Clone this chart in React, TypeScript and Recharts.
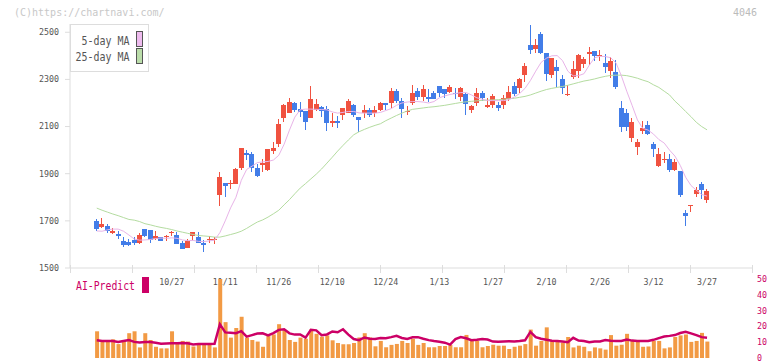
import React from 'react';
import { ComposedChart, Bar, Line, XAxis, YAxis } from 'recharts';

const labelIdx = [14, 24, 34, 44, 54, 64, 74, 84, 94, 104, 114];
const labelText = ['10/27', '11/11', '11/26', '12/10', '12/24', '1/13', '1/27', '2/10', '2/26', '3/12', '3/27'];

const opens = [
  1700, 1676, 1679, 1648, 1645, 1613, 1611, 1620, 1604, 1665,
  1662, 1623, 1631, 1632, 1650, 1642, 1608, 1583, 1636, 1630,
  1604, 1622, 1619, 1808, 1861, 1859, 1858, 1925, 1988, 1984,
  1925, 1935, 1914, 1997, 2028, 2138, 2159, 2200, 2175, 2167,
  2138, 2171, 2183, 2175, 2113, 2124, 2148, 2157, 2192, 2141,
  2157, 2171, 2159, 2171, 2202, 2199, 2251, 2208, 2164, 2199,
  2251, 2227, 2226, 2243, 2272, 2260, 2247, 2243, 2227, 2236,
  2172, 2202, 2243, 2183, 2193, 2192, 2193, 2217, 2272, 2264,
  2319, 2446, 2429, 2493, 2412, 2320, 2353, 2302, 2237, 2312,
  2336, 2366, 2408, 2421, 2403, 2370, 2336, 2332, 2179, 2158,
  2053, 2015, 2083, 2107, 2027, 1933, 1962, 1963, 1917, 1912,
  1734, 1767, 1815, 1857, 1789,
];
const highs = [
  1709, 1713, 1688, 1669, 1655, 1633, 1623, 1631, 1648, 1666,
  1662, 1657, 1632, 1641, 1658, 1654, 1613, 1623, 1652, 1654,
  1617, 1637, 1630, 1908, 1862, 1874, 1926, 2010, 2001, 1993,
  1941, 1963, 2004, 2035, 2133, 2197, 2222, 2205, 2205, 2167,
  2272, 2217, 2188, 2188, 2159, 2145, 2180, 2217, 2197, 2141,
  2192, 2180, 2188, 2206, 2202, 2263, 2260, 2222, 2188, 2277,
  2263, 2277, 2260, 2251, 2272, 2260, 2277, 2264, 2268, 2243,
  2193, 2264, 2251, 2222, 2239, 2206, 2235, 2272, 2289, 2306,
  2370, 2530, 2472, 2501, 2412, 2391, 2381, 2319, 2277, 2378,
  2407, 2394, 2438, 2421, 2424, 2409, 2394, 2383, 2209, 2175,
  2137, 2049, 2124, 2124, 2035, 2010, 1993, 1984, 1963, 1912,
  1747, 1768, 1844, 1866, 1836,
];
const lows = [
  1659, 1668, 1648, 1644, 1625, 1587, 1594, 1597, 1600, 1633,
  1608, 1617, 1613, 1613, 1634, 1600, 1581, 1583, 1617, 1608,
  1568, 1608, 1600, 1765, 1803, 1837, 1857, 1917, 1959, 1908,
  1884, 1909, 1913, 1984, 2015, 2120, 2157, 2162, 2141, 2087,
  2137, 2166, 2142, 2082, 2096, 2093, 2128, 2156, 2142, 2075,
  2136, 2140, 2142, 2166, 2171, 2180, 2202, 2137, 2150, 2191,
  2214, 2209, 2205, 2217, 2227, 2222, 2243, 2217, 2210, 2151,
  2159, 2189, 2210, 2180, 2180, 2166, 2176, 2209, 2231, 2243,
  2291, 2409, 2414, 2408, 2295, 2308, 2269, 2240, 2229, 2302,
  2308, 2349, 2361, 2380, 2380, 2326, 2308, 2260, 2079, 2083,
  2036, 1981, 2069, 2065, 1969, 1929, 1946, 1908, 1912, 1802,
  1679, 1739, 1802, 1794, 1777,
];
const closes = [
  1665, 1688, 1658, 1659, 1634, 1597, 1599, 1604, 1642, 1634,
  1617, 1637, 1613, 1634, 1652, 1600, 1581, 1614, 1651, 1608,
  1599, 1624, 1621, 1884, 1846, 1861, 1922, 2007, 1980, 1926,
  1892, 1946, 2003, 2011, 2111, 2193, 2205, 2171, 2161, 2121,
  2217, 2197, 2168, 2113, 2124, 2113, 2179, 2209, 2147, 2128,
  2171, 2147, 2171, 2202, 2192, 2251, 2208, 2175, 2166, 2243,
  2227, 2260, 2217, 2217, 2243, 2240, 2268, 2236, 2264, 2197,
  2188, 2243, 2219, 2192, 2230, 2180, 2222, 2247, 2236, 2302,
  2358, 2426, 2446, 2412, 2325, 2391, 2337, 2263, 2239, 2344,
  2404, 2387, 2415, 2401, 2405, 2354, 2377, 2268, 2100, 2096,
  2120, 2035, 2094, 2069, 2005, 1984, 1964, 1917, 1950, 1811,
  1722, 1768, 1832, 1832, 1828,
];
const ma5 = [
  1657, 1656, 1662, 1665, 1665, 1656, 1640, 1623, 1618, 1619,
  1621, 1625, 1627, 1626, 1628, 1626, 1619, 1616, 1617, 1613,
  1612, 1615, 1618, 1650, 1700, 1755, 1800, 1872, 1918, 1932,
  1947, 1950, 1952, 1958, 1978, 2025, 2085, 2140, 2171, 2174,
  2174, 2173, 2172, 2171, 2162, 2157, 2160, 2164, 2164, 2158,
  2157, 2157, 2157, 2160, 2168, 2176, 2190, 2200, 2204, 2206,
  2206, 2204, 2200, 2206, 2222, 2230, 2236, 2240, 2244, 2244,
  2234, 2222, 2216, 2210, 2210, 2210, 2210, 2214, 2225, 2240,
  2262, 2295, 2335, 2372, 2390, 2400, 2401, 2380, 2335, 2315,
  2316, 2324, 2360, 2392, 2398, 2397, 2392, 2370, 2315, 2250,
  2190, 2128, 2092, 2085, 2068, 2045, 2030, 2000, 1975, 1935,
  1885, 1850, 1830, 1812, 1805,
];
const ma25 = [
  1754, 1745, 1737, 1729, 1722, 1714, 1706, 1703, 1697, 1688,
  1683, 1677, 1672, 1668, 1663, 1657, 1652, 1647, 1642, 1638,
  1636, 1634, 1631, 1631, 1636, 1642, 1648, 1656, 1668, 1682,
  1695, 1704, 1716, 1730, 1745, 1768, 1790, 1815, 1839, 1858,
  1878, 1898, 1920, 1945, 1970, 1996, 2020, 2043, 2065, 2078,
  2088, 2097, 2105, 2112, 2125, 2136, 2147, 2157, 2166, 2173,
  2176, 2179, 2182, 2184, 2187, 2190, 2194, 2198, 2202, 2205,
  2207, 2209, 2211, 2212, 2213, 2214, 2216, 2218, 2220, 2224,
  2228, 2234, 2242, 2250, 2257, 2262, 2266, 2270, 2275, 2281,
  2287, 2293, 2297, 2302, 2308, 2313, 2317, 2318, 2318, 2316,
  2311, 2305, 2297, 2290, 2277, 2266, 2250, 2234, 2208, 2187,
  2164, 2142, 2118, 2100, 2086,
];
const volumes = [
  16.9, 10.8, 10.8, 11.8, 8.8, 10.8, 15.7, 16.9, 6.7, 15.7,
  11.4, 7.1, 6.1, 6.1, 16.9, 9.8, 10.8, 10.4, 7.3, 8.8,
  8.8, 9.4, 6.7, 50, 22.7, 12.9, 19.0, 26.1, 12.9, 11.4,
  10.4, 7.1, 13.9, 14.9, 21.4, 17.6, 11.4, 10.2, 12.9, 12.2,
  18.0, 15.3, 13.5, 14.3, 11.2, 9.5, 8.7, 8.7, 9.5, 13.0,
  15.7, 13.0, 7.4, 10.8, 6.8, 8.3, 8.9, 10.8, 9.5, 12.1,
  8.3, 9.5, 6.8, 6.8, 7.6, 7.6, 8.3, 6.8, 6.8, 14.6,
  11.2, 10.8, 6.8, 7.6, 8.4, 7.8, 7.8, 5.7, 7.1, 7.8,
  8.8, 18.0, 7.8, 10.8, 19.4, 10.8, 10.8, 9.8, 13.3, 6.7,
  7.8, 7.1, 4.3, 6.7, 6.1, 5.3, 14.5, 7.8, 8.4, 15.3,
  10.8, 10.8, 7.1, 7.3, 10.8, 10.8, 6.1, 6.7, 13.3, 14.3,
  14.9, 10.2, 10.8, 15.9, 10.4,
];
const aiPredict = [
  11.2, 10.8, 10.8, 10.8, 10.1, 10.8, 11.4, 10.2, 9.8, 10.1,
  10.1, 9.7, 9.0, 9.2, 9.3, 9.4, 9.5, 9.3, 8.5, 8.8,
  8.8, 8.8, 9.0, 21.4, 16.2, 16.0, 15.7, 17.0, 13.5, 14.5,
  15.5, 15.6, 14.3, 15.8, 17.8, 18.2, 15.6, 14.8, 14.9, 12.9,
  17.8, 17.5, 14.4, 14.9, 16.8, 16.3, 18.2, 14.8, 12.0, 11.3,
  13.0, 12.2, 12.1, 12.7, 12.5, 13.2, 14.0, 12.7, 12.1, 13.1,
  13.2, 12.2, 11.3, 10.7, 10.3, 9.7, 8.5, 12.0, 13.2, 12.5,
  11.3, 11.5, 12.0, 11.7, 10.4, 10.3, 10.5, 10.6, 10.5, 10.7,
  11.2, 16.5, 13.2, 12.2, 11.6, 10.9, 10.7, 10.5, 10.0, 12.8,
  11.0, 10.8, 10.0, 10.5, 10.5, 11.4, 10.9, 10.8, 10.8, 11.7,
  11.0, 10.8, 10.8, 10.8, 11.5, 12.6, 13.6, 14.0, 14.5, 15.8,
  16.6, 15.6, 14.5, 13.2, 12.8,
];

const priceTicks = [1500, 1700, 1900, 2100, 2300, 2500];
const volTicks = [0, 10, 20, 30, 40, 50];

const rows = closes.map((c, i) => ({
  i,
  open: opens[i],
  high: highs[i],
  low: lows[i],
  close: c,
  ma5: ma5[i],
  ma25: ma25[i],
  vol: volumes[i],
  ai: aiPredict[i],
}));

const X_DOMAIN: [number, number] = [-5, 122.4];
const gridTicks = Array.from({ length: 12 }, (_, k) => X_DOMAIN[0] + (k * (X_DOMAIN[1] - X_DOMAIN[0])) / 11);
const allTicks = [...gridTicks, ...labelIdx].sort((a, b) => a - b);

const MONO = "'DejaVu Sans Mono', 'Liberation Mono', monospace";
const UP = '#f05240';
const DOWN = '#427de8';
const AXIS = '#dddddd';
const CRIMSON = '#cc0066';

const Candle = (props: any) => {
  const { x, y, width, height, payload } = props;
  if (x == null || y == null || !payload) return null;
  const top = Math.min(y, y + height);
  const h = Math.abs(height);
  const range = payload.high - payload.low;
  const k = range > 0 ? h / range : 0;
  const cx = Math.floor(x + width / 2);
  const yo = top + (payload.high - payload.open) * k;
  const yc = top + (payload.high - payload.close) * k;
  const color = payload.close >= payload.open ? UP : DOWN;
  const bTop = Math.round(Math.min(yo, yc));
  const bBot = Math.round(Math.max(yo, yc));
  const bh = Math.max(1, bBot - bTop);
  return (
    <g>
      <line x1={cx + 0.5} x2={cx + 0.5} y1={Math.round(top)} y2={Math.round(top + h)} stroke={color} strokeWidth={1} />
      <rect x={cx - 2} y={bTop} width={5} height={bh} fill={color} />
    </g>
  );
};

const XTick = (props: any) => {
  const { x, y, payload } = props;
  const v = payload?.value;
  const li = labelIdx.indexOf(v);
  if (li >= 0) {
    return (
      <text x={x} y={y + 17} textAnchor="middle" fontSize={8.3} fontFamily={MONO} fill="#555">
        {labelText[li]}
      </text>
    );
  }
  const px = Math.round(x) + 0.5;
  return <line x1={px} x2={px} y1={y - 3} y2={y + 5} stroke={AXIS} strokeWidth={1} />;
};

export default function App() {
  return (
    <div style={{ position: 'absolute', left: 0, top: 0, width: 772, height: 361, background: '#fff', overflow: 'hidden' }}>
      <div style={{ position: 'absolute', left: 0, top: 0 }}>
        <ComposedChart width={772} height={361} data={rows} margin={{ top: 24, right: 20, bottom: 63, left: 0 }}>
          <XAxis
            dataKey="i"
            type="number"
            domain={X_DOMAIN}
            allowDataOverflow
            ticks={allTicks}
            interval={0}
            tickLine={false}
            tickSize={0}
            tickMargin={0}
            axisLine={{ stroke: AXIS }}
            tick={<XTick />}
            height={30}
          />
          <YAxis
            type="number"
            domain={[1500, 2535]}
            allowDataOverflow
            ticks={priceTicks}
            interval={0}
            width={70}
            tickSize={5}
            tickMargin={6}
            axisLine={{ stroke: AXIS }}
            tickLine={{ stroke: AXIS }}
            tick={{ fill: '#555', fontSize: 8.3, fontFamily: MONO }}
          />
          <Line dataKey="ma25" type="linear" stroke="#b4dca0" strokeWidth={1} dot={false} activeDot={false} isAnimationActive={false} />
          <Line dataKey="ma5" type="linear" stroke="#e8b4e8" strokeWidth={1} dot={false} activeDot={false} isAnimationActive={false} />
          <Bar dataKey={(d: any) => [d.low, d.high]} barSize={5} shape={<Candle />} isAnimationActive={false} />
        </ComposedChart>
      </div>
      <div style={{ position: 'absolute', left: 0, top: 0 }}>
        <ComposedChart width={772} height={361} data={rows} margin={{ top: 279, right: 0, bottom: 3, left: 70 }}>
          <XAxis dataKey="i" type="number" domain={X_DOMAIN} allowDataOverflow hide />
          <YAxis
            orientation="right"
            type="number"
            domain={[0, 50]}
            allowDataOverflow
            ticks={volTicks}
            interval={0}
            width={20}
            axisLine={false}
            tickLine={false}
            tickSize={3}
            tickMargin={2}
            tick={{ fill: CRIMSON, fontSize: 8.3, fontFamily: MONO }}
          />
          <Bar dataKey="vol" barSize={4} fill="#f29a44" isAnimationActive={false} />
          <Line dataKey="ai" type="linear" stroke={CRIMSON} strokeWidth={2.5} dot={false} activeDot={false} isAnimationActive={false} />
        </ComposedChart>
      </div>
      <svg width={772} height={361} style={{ position: 'absolute', left: 0, top: 0, pointerEvents: 'none' }}>
        <text x={14} y={15.5} fontSize={10} fontFamily={MONO} fill="#c8c8c8">(C)https://chartnavi.com/</text>
        <text x={757} y={15.5} fontSize={10} fontFamily={MONO} fill="#bbbbbb" textAnchor="end">4046</text>
        <rect x={70.5} y={24.5} width={78} height={47} fill="#fff" stroke={AXIS} />
        <text x={129.5} y={44.5} fontSize={12.5} fontFamily={MONO} fill="#555" textAnchor="end" textLength={48} lengthAdjust="spacingAndGlyphs">5-day MA</text>
        <text x={129.5} y={61} fontSize={12.5} fontFamily={MONO} fill="#555" textAnchor="end" textLength={54} lengthAdjust="spacingAndGlyphs">25-day MA</text>
        <rect x={136.5} y={31.5} width={6} height={15} fill="#eebbee" stroke="#555" />
        <rect x={136.5} y={48.5} width={6} height={15} fill="#bbddaa" stroke="#555" />
        <text x={76} y={289.5} fontSize={12.5} fontFamily={MONO} fill={CRIMSON} textLength={59} lengthAdjust="spacingAndGlyphs">AI-Predict</text>
        <rect x={142} y={277} width={7} height={16} fill={CRIMSON} />
      </svg>
    </div>
  );
}
